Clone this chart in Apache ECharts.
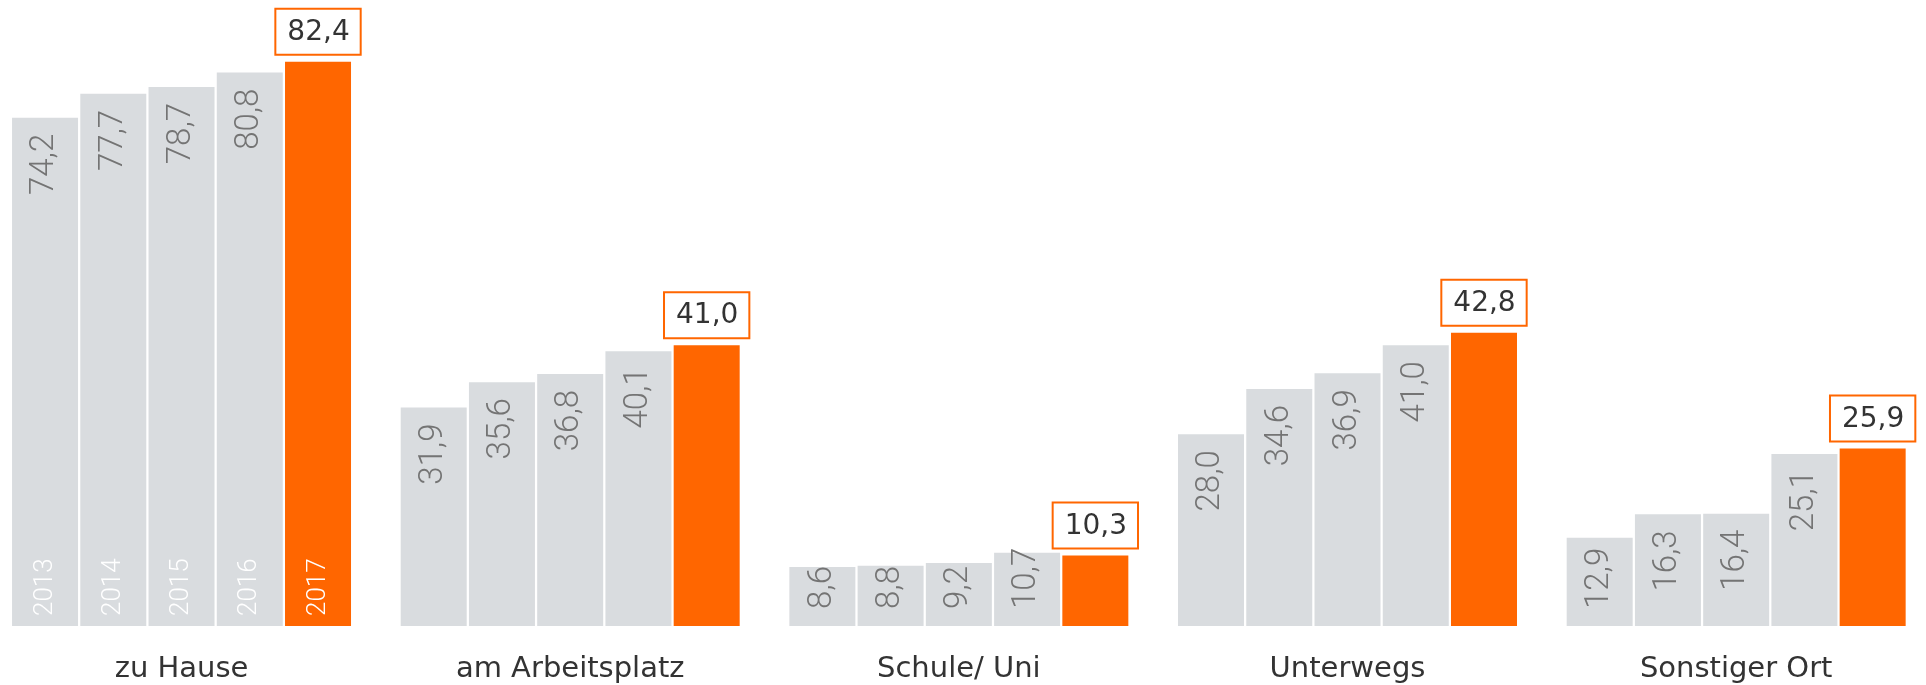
<!DOCTYPE html>
<html>
<head>
<meta charset="utf-8">
<title>Orte</title>
<script src="https://cdn.jsdelivr.net/npm/echarts@6/dist/echarts.min.js"></script>
<style>
  html, body { margin: 0; padding: 0; background: #fff; }
  #chart { width: 1926px; height: 685px; }
</style>
</head>
<body>
<div id="chart"></div>
<script>
const categories = ['zu Hause', 'am Arbeitsplatz', 'Schule/ Uni', 'Unterwegs', 'Sonstiger Ort']
const years = ['2013', '2014', '2015', '2016', '2017']

const values2013 = [74.2, 31.9, 8.6, 28.0, 12.9]
const values2014 = [77.7, 35.6, 8.8, 34.6, 16.3]
const values2015 = [78.7, 36.8, 9.2, 36.9, 16.4]
const values2016 = [80.8, 40.1, 10.7, 41.0, 25.1]
const values2017 = [82.4, 41.0, 10.3, 42.8, 25.9]

const grey = '#d9dcdf'
const orange = '#ff6600'
const barWidth = 66
const barGap = '3.4%'

const fmt = v => v.toFixed(1).replace('.', ',')

// short bars get their label pushed to the bottom
function greyData(values) {
  return values.map(v => {
    const small = v < 14.5
    return {
      value: v,
      label: {
        position: small ? 'insideBottom' : 'insideTop',
        align: small ? 'left' : 'right',
        distance: small ? 17 : 16
      }
    }
  })
}

function greySeries(name, values) {
  return {
    name,
    type: 'bar',
    barWidth,
    barGap,
    itemStyle: { color: grey },
    label: {
      show: true,
      rotate: 90,
      verticalAlign: 'middle',
      color: '#747474',
      fontFamily: 'Roboto',
      fontWeight: 300,
      fontSize: 33,
      formatter: p => fmt(p.value)
    },
    data: greyData(values),
    silent: true
  }
}

// year captions only on the first group, drawn on an overlaid hidden axis
function yearSeries(year, values) {
  return {
    name: year + '-label',
    type: 'bar',
    xAxisIndex: 1,
    yAxisIndex: 1,
    barWidth,
    barGap,
    itemStyle: { color: 'transparent' },
    label: {
      show: true,
      position: 'insideBottom',
      rotate: 90,
      align: 'left',
      verticalAlign: 'middle',
      distance: 10,
      color: '#ffffff',
      fontFamily: 'Roboto',
      fontWeight: 300,
      fontSize: 26,
      formatter: year
    },
    data: values.map((v, i) => (i === 0 ? v : '-')),
    silent: true
  }
}

const chart = echarts.init(document.getElementById('chart'))

const grid = {
  left: -12.8,
  width: 1943.3,
  top: 0,
  bottom: 59,
  containLabel: false,
  outerBoundsMode: 'none'
}
const yMax = 91.4

chart.setOption({
  animation: false,
  grid,
  xAxis: [
    {
      type: 'category',
      data: categories,
      axisLine: { show: false },
      axisTick: { show: false },
      axisLabel: {
        margin: 29,
        color: '#333333',
        fontFamily: 'DejaVu Sans',
        fontSize: 29
      }
    },
    {
      type: 'category',
      data: categories,
      show: false
    }
  ],
  yAxis: [
    { type: 'value', min: 0, max: yMax, show: false },
    { type: 'value', min: 0, max: yMax, show: false }
  ],
  series: [
    greySeries(years[0], values2013),
    greySeries(years[1], values2014),
    greySeries(years[2], values2015),
    greySeries(years[3], values2016),
    {
      name: years[4],
      type: 'bar',
      barWidth,
      barGap,
      itemStyle: { color: orange },
      label: {
        show: true,
        position: 'top',
        distance: 8,
        color: '#333333',
        fontFamily: 'DejaVu Sans',
        fontSize: 28,
        backgroundColor: '#ffffff',
        borderColor: orange,
        borderWidth: 2,
        padding: [9, 10, 7, 11],
        formatter: p => fmt(p.value)
      },
      data: values2017,
      silent: true
    },
    yearSeries(years[0], values2013),
    yearSeries(years[1], values2014),
    yearSeries(years[2], values2015),
    yearSeries(years[3], values2016),
    yearSeries(years[4], values2017)
  ]
})
</script>
</body>
</html>
